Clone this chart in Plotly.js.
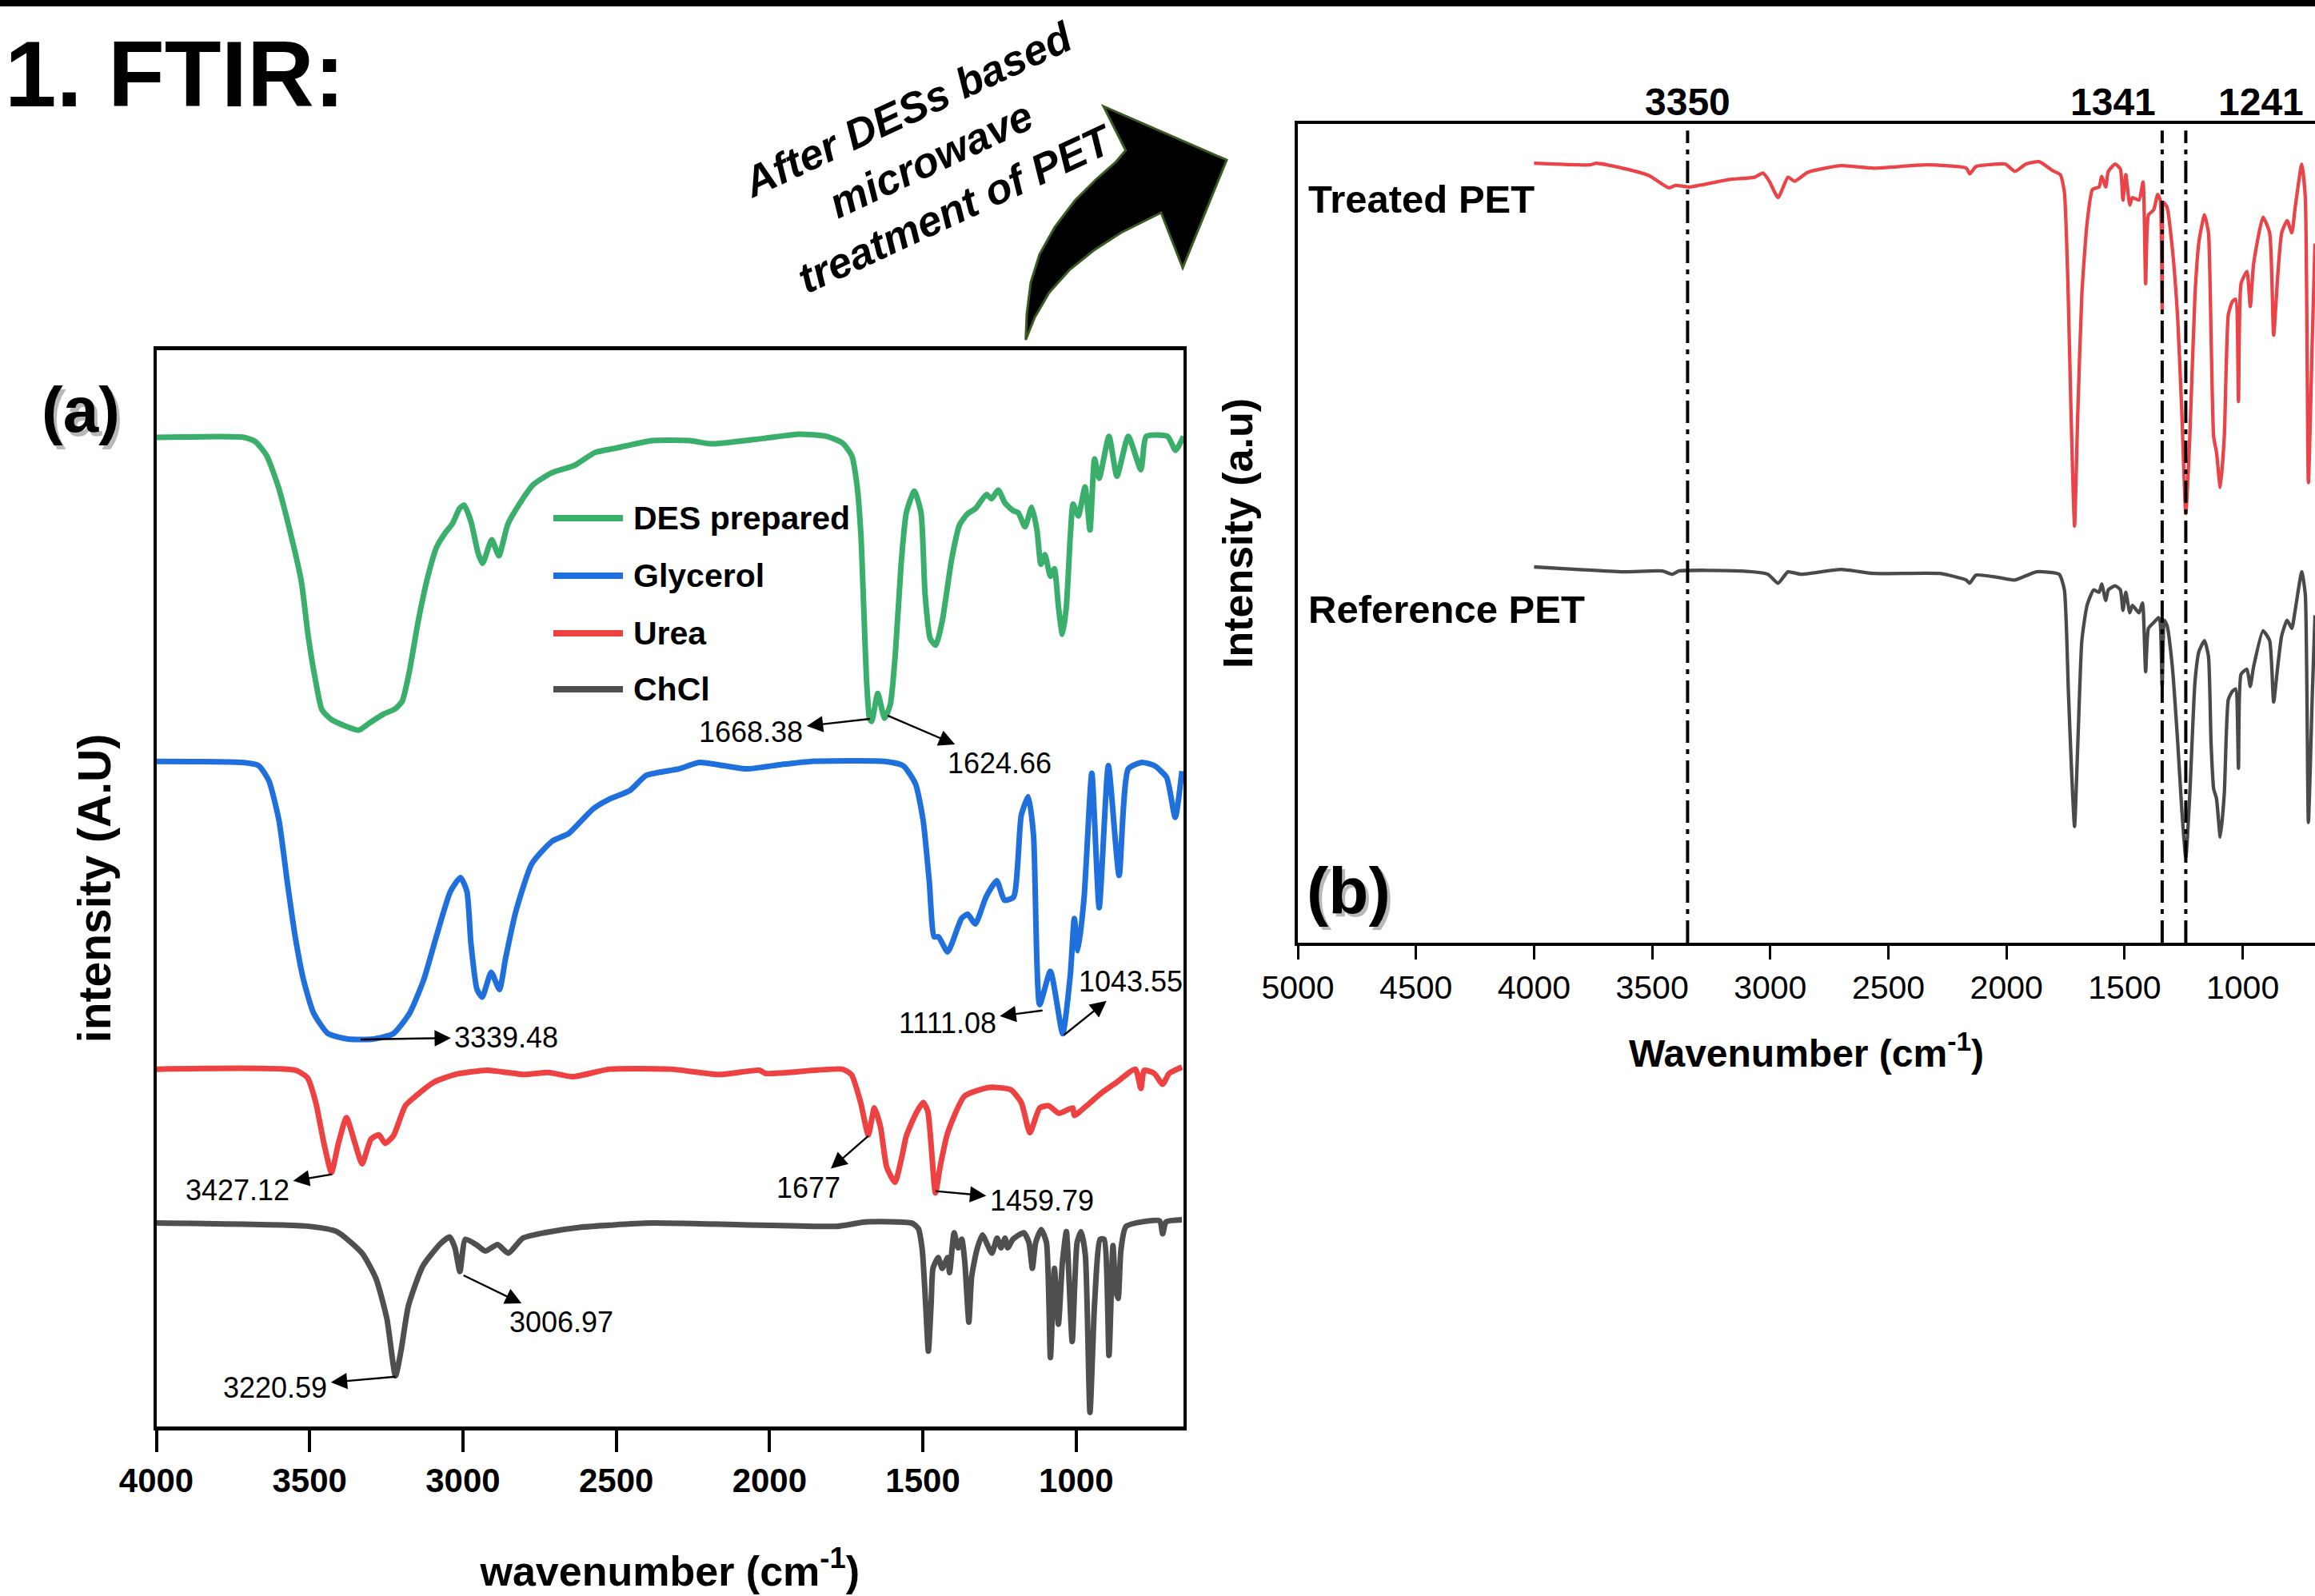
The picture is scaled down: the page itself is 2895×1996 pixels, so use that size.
<!DOCTYPE html>
<html><head><meta charset="utf-8">
<script src="https://cdn.plot.ly/plotly-3.0.1.min.js"></script>
<style>html,body{margin:0;padding:0;overflow:hidden;background:#fff}#chart{width:2895px;height:1996px}</style>
</head><body><div id="chart"></div>
<script>
// ---------------- DATA ----------------
// Panel (a): offset-stacked FTIR spectra, y in arbitrary units (0-100 of the plot height)
const desX = [4000,3714,3677,3640,3602,3565,3527,3505,3482,3460,3430,3385,3340,3303,3258,3220,3198,3175,3146,3116,3086,3056,3034,3011,2996,2974,2951,2936,2906,2883,2854,2816,2771,2711,2636,2569,2502,2382,2262,2187,2022,1902,1815,1763,1732,1715,1702,1693,1684,1674,1667,1647,1625,1606,1589,1571,1554,1528,1506,1493,1476,1458,1437,1406,1380,1354,1328,1293,1276,1254,1232,1206,1189,1167,1145,1128,1115,1102,1084,1071,1058,1045,1032,1019,1010,993,971,955,940,925,893,867,830,789,771,702,676,650];
const desY = [91.9,91.9,91.5,90.2,87.3,83.3,78.5,73.5,69.5,66.6,65.7,65.1,64.7,65.4,66.2,66.7,67.4,70.1,74.8,78.8,81.7,83.1,83.9,85.3,85.6,84.1,81.2,80.2,82.4,80.9,83.8,85.7,87.5,88.6,89.3,90.5,90.9,91.6,91.6,91.3,91.8,92.2,92.0,91.4,90.2,87.5,82.8,76.2,69.5,65.8,65.5,68.1,65.8,67.1,72.1,80.1,84.9,86.9,84.9,77.4,73.2,72.6,74.8,80.6,83.8,84.8,85.3,86.6,86.2,87.0,85.8,85.1,84.9,83.6,85.4,83.3,80.1,81.0,79.0,79.7,76.2,73.6,76.2,82.8,85.7,84.6,87.3,83.3,89.9,88.1,92.0,88.3,92.0,88.9,92.0,92.0,90.7,92.0];

const glyX = [4000,3720,3666,3633,3600,3573,3547,3520,3487,3440,3374,3294,3227,3174,3128,3087,3041,3008,2987,2974,2954,2937,2908,2881,2861,2828,2775,2708,2655,2575,2522,2455,2402,2296,2229,2149,2073,1963,1863,1624,1564,1524,1499,1479,1463,1449,1419,1374,1354,1329,1294,1259,1234,1204,1179,1156,1139,1119,1084,1044,1019,1006,994,974,949,925,895,860,830,785,745,705,677,655];
const glyY = [61.8,61.7,61.4,60.0,56.3,50.6,45.5,41.5,38.4,36.5,36.0,36.0,36.5,38.4,41.5,45.5,49.7,51.0,49.7,44.9,40.6,39.9,42.2,40.6,43.5,47.8,52.3,54.4,55.1,57.4,58.3,59.1,60.5,61.1,61.7,61.4,61.1,61.5,61.8,61.8,61.4,59.7,56.3,50.6,45.5,45.5,44.1,47.2,47.6,46.7,49.2,50.7,48.9,49.2,56.8,58.5,54.9,39.2,42.3,36.5,42.0,47.2,44.2,49.2,60.7,48.2,61.4,51.2,61.1,61.7,61.4,60.3,56.6,60.9];

const ureaX = [4000,3547,3507,3480,3454,3429,3407,3380,3353,3329,3300,3274,3254,3227,3188,3154,3094,3027,2921,2801,2721,2642,2522,2322,2163,2033,2013,1763,1733,1703,1678,1658,1638,1618,1591,1569,1554,1524,1499,1484,1459,1444,1419,1364,1284,1214,1179,1151,1119,1090,1056,1011,1006,966,917,867,807,789,778,745,718,697,655];
const ureaY = [33.2,33.1,32.4,30.1,26.4,23.6,26.2,28.7,26.4,24.4,26.7,27.1,26.3,27.0,29.8,30.7,32.0,32.7,33.1,32.7,32.9,32.5,33.2,33.2,32.7,33.1,32.8,33.2,32.7,30.1,27.1,29.6,27.8,24.1,22.7,25.0,27.0,29.0,30.1,29.3,21.7,24.1,27.3,30.7,31.5,31.3,30.1,27.3,29.6,29.8,29.1,29.6,28.9,29.8,31.0,32.0,33.2,31.4,33.1,32.8,31.8,32.8,33.4];

const chclX = [4000,3504,3411,3329,3283,3248,3220,3201,3178,3131,3073,3043,3026,3010,2992,2957,2927,2887,2852,2805,2735,2619,2386,1781,1688,1536,1515,1502,1491,1482,1473,1467,1450,1437,1419,1413,1398,1385,1373,1363,1350,1341,1324,1306,1275,1258,1245,1232,1223,1206,1171,1154,1143,1132,1114,1097,1084,1071,1058,1045,1032,1013,997,984,970,955,940,922,909,893,880,871,863,854,837,728,718,707,655];
const chclY = [18.9,18.6,18.1,16.1,13.7,10.0,4.7,7.2,11.2,14.9,17.0,17.6,16.6,14.4,17.4,16.9,16.3,16.9,16.1,17.5,18.0,18.5,18.9,18.6,19.0,18.9,18.4,16.4,11.4,7.0,11.4,14.7,15.7,14.7,15.7,14.3,18.0,16.6,17.4,15.2,9.7,13.9,16.4,17.8,16.1,17.5,16.6,17.5,16.6,17.4,18.0,17.1,14.7,17.1,18.3,17.1,6.4,14.7,9.5,15.2,18.1,7.9,17.1,18.1,15.9,1.3,11.4,17.4,17.4,6.6,16.8,12.7,11.9,16.4,18.6,19.1,17.9,19.0,19.2];

const seriesNamesA = ['DES prepared','Glycerol','Urea','ChCl'];

// Peak labels of panel (a): label text and the peak each arrow starts from
const peakLabels = ['1668.38','1624.66','3339.48','3427.12','1111.08','1043.55','1677','1459.79','3006.97','3220.59'];
const peakX = [1672,1615,3334,3427,1110,1040,1678,1459,2998,3220];
const peakY = [65.75,66.05,35.96,23.43,38.65,36.37,26.99,21.87,14.04,4.63];

// Panel (b): PET spectra
const treatX = [4000,3764,3737,3626,3514,3430,3401,3345,3177,3066,3031,3004,2967,2925,2897,2841,2701,2562,2339,2170,2156,2129,2031,2004,1964,1918,1862,1805,1772,1755,1740,1727,1712,1698,1681,1659,1636,1608,1597,1580,1569,1540,1518,1507,1495,1478,1467,1439,1422,1411,1399,1377,1360,1349,1341,1334,1320,1298,1275,1258,1241,1224,1202,1185,1162,1145,1134,1123,1111,1095,1078,1061,1044,1030,1018,1007,982,968,954,914,886,869,852,835,812,792,778,750,735,722,705,694];
const treatY = [95.2,95.0,95.2,94.6,93.7,92.2,92.5,92.3,93.2,93.5,94.0,93.0,91.0,93.5,93.0,94.1,94.9,94.6,95.0,94.6,93.9,94.8,95.1,95.1,94.2,95.1,95.4,94.3,93.8,91.7,80.5,64.9,50.9,64.9,79.2,87.9,92.0,92.3,93.6,92.3,94.2,95.1,94.5,90.7,93.8,90.1,91.0,90.7,92.9,80.5,88.9,89.5,91.4,90.7,77.3,90.4,89.8,84.8,76.1,64.9,52.4,61.8,79.2,85.7,88.9,86.7,74.2,61.8,59.9,55.6,61.8,76.7,78.3,78.6,66.1,80.5,82.0,77.7,82.9,88.6,86.7,74.2,81.4,86.7,88.2,86.7,89.8,95.1,91.0,56.2,74.2,85.4];

const refX = [4000,3820,3624,3456,3415,3387,3121,3010,2967,2925,2871,2701,2562,2282,2171,2156,2129,2031,1964,1873,1777,1755,1738,1725,1712,1698,1681,1659,1631,1608,1597,1580,1569,1540,1518,1507,1495,1478,1467,1439,1424,1411,1399,1377,1356,1349,1341,1332,1320,1298,1275,1258,1241,1224,1202,1185,1162,1145,1134,1123,1111,1095,1078,1061,1044,1030,1018,1007,982,968,954,914,886,869,852,835,812,792,778,750,735,722,705,694];
const refY = [45.9,45.6,45.3,45.4,45.0,45.4,45.4,45.0,43.9,45.3,45.0,45.6,45.1,45.1,44.3,43.9,44.9,44.6,44.3,45.3,45.0,43.1,30.7,21.3,14.2,24.4,36.9,41.2,43.1,42.8,43.8,41.8,43.1,43.6,43.1,40.6,42.8,40.3,41.2,40.3,41.5,33.1,38.4,39.1,39.7,39.1,31.3,39.4,38.7,33.7,24.4,16.3,10.4,18.2,31.9,35.6,36.9,35.0,24.4,18.8,17.6,12.9,18.2,29.7,30.7,31.0,21.3,32.8,33.4,31.3,33.7,38.1,36.9,29.4,33.7,37.5,39.4,38.4,40.6,45.3,42.5,14.7,30.7,40.0];

const seriesNamesB = ['Treated PET','Reference PET'];
const markerWn = [3350,1341,1241];
const markerLabels = ['3350','1341','1241'];

const ticksA = [4000,3500,3000,2500,2000,1500,1000];
const tickTextA = ['4000','3500','3000','2500','2000','1500','1000'];
const ticksB = [5000,4500,4000,3500,3000,2500,2000,1500,1000];
const tickTextB = ['5000','4500','4000','3500','3000','2500','2000','1500','1000'];

// ---------------- LAYOUT / STYLE ----------------
const W = 2895, H = 1996;
const px = X => X / W, py = Y => 1 - Y / H;
const SANS = 'Liberation Sans, Arial, sans-serif';
const colorsA = ['#3AAE6B', '#1F6FDD', '#EE4141', '#4F4F4F'];
const colorsB = ['#EA4348', '#4A4A4A'];

const traces = [];
[[desX,desY],[glyX,glyY],[ureaX,ureaY],[chclX,chclY]].forEach((d,i) => {
  traces.push({x:d[0], y:d[1], name:seriesNamesA[i], type:'scatter', mode:'lines', xaxis:'x', yaxis:'y',
    line:{color:colorsA[i], width:7, shape:'spline', smoothing:0.55}, showlegend:false, hoverinfo:'skip'});
});
[[treatX,treatY],[refX,refY]].forEach((d,i) => {
  traces.push({x:d[0], y:d[1], name:seriesNamesB[i], type:'scatter', mode:'lines', xaxis:'x2', yaxis:'y2',
    line:{color:colorsB[i], width:4.3, shape:'spline', smoothing:0.5}, showlegend:false, hoverinfo:'skip'});
});

// label centres (layout)
const labX = [2060,1250,2858,3735,1420,822,1873,1112,2680,3612];
const labY = [64.5,61.6,36.18,21.95,37.5,41.34,22.15,20.96,9.66,3.64];

const annotations = [];
peakLabels.forEach((t,i) => {
  annotations.push({xref:'x', yref:'y', x:peakX[i], y:peakY[i], axref:'x', ayref:'y', ax:labX[i], ay:labY[i],
    text:t, showarrow:true, arrowside:'start', startarrowhead:2, startarrowsize:1.7, arrowwidth:2.4,
    arrowcolor:'#000', standoff:0, startstandoff:2, borderpad:2,
    font:{family:SANS, size:36, color:'#000'}, xanchor:'center', yanchor:'middle'});
});

// legend of panel (a), drawn by hand
const legRows = [648,720,792,862];
const shapes = [];
seriesNamesA.forEach((n,i) => {
  shapes.push({type:'line', xref:'paper', yref:'paper', x0:px(692), x1:px(779), y0:py(legRows[i]), y1:py(legRows[i]),
    line:{color:colorsA[i], width:8}});
  annotations.push({xref:'paper', yref:'paper', x:px(790), y:py(legRows[i]), text:n, showarrow:false,
    xanchor:'left', yanchor:'middle', font:{family:SANS, size:41, color:'#000', weight:'bold'}});
});

// marker lines panel (b)
markerWn.forEach((w,i) => {
  shapes.push({type:'line', xref:'x2', yref:'y2', x0:w, x1:w, y0:0, y1:99.2,
    line:{color:'#000', width:4, dash:'28px,8px,6px,8px'}});
});
annotations.push({xref:'x2', yref:'paper', x:markerWn[0], y:py(127), text:markerLabels[0], showarrow:false,
  xanchor:'center', yanchor:'middle', font:{family:SANS, size:48, color:'#000', weight:'bold'}});
annotations.push({xref:'x2', yref:'paper', x:1361, y:py(127), text:markerLabels[1], showarrow:false,
  xanchor:'right', yanchor:'middle', font:{family:SANS, size:48, color:'#000', weight:'bold'}});
annotations.push({xref:'x2', yref:'paper', x:1110, y:py(127), text:markerLabels[2], showarrow:false,
  xanchor:'left', yanchor:'middle', font:{family:SANS, size:48, color:'#000', weight:'bold'}});

// trace names panel (b)
annotations.push({xref:'paper', yref:'paper', x:px(1634), y:py(249), text:seriesNamesB[0], showarrow:false,
  xanchor:'left', yanchor:'middle', font:{family:SANS, size:49, color:'#000', weight:'bold'}});
annotations.push({xref:'paper', yref:'paper', x:px(1634), y:py(762), text:seriesNamesB[1], showarrow:false,
  xanchor:'left', yanchor:'middle', font:{family:SANS, size:49, color:'#000', weight:'bold'}});

// panel tags with soft shadow
[['(a)',50,513,80],['(b)',1632,1113,82]].forEach(p => {
  annotations.push({xref:'paper', yref:'paper', x:px(p[1]+4), y:py(p[2]+4), text:p[0], showarrow:false,
    xanchor:'left', yanchor:'middle', font:{family:SANS, size:p[3], color:'rgba(0,0,0,0.28)', weight:'bold'}});
  annotations.push({xref:'paper', yref:'paper', x:px(p[1]), y:py(p[2]), text:p[0], showarrow:false,
    xanchor:'left', yanchor:'middle', font:{family:SANS, size:p[3], color:'#000', weight:'bold'}});
});

// rotated caption
annotations.push({xref:'paper', yref:'paper', x:px(1164), y:py(200), text:'After DESs based<br>microwave<br>treatment of PET',
  showarrow:false, textangle:-25, xanchor:'center', yanchor:'middle', align:'center',
  font:{family:SANS, size:53, color:'#000', weight:'bold', style:'italic'}});

// top black bar
shapes.push({type:'rect', xref:'paper', yref:'paper', x0:0, x1:1, y0:py(8), y1:1, fillcolor:'#000', line:{width:0}});

// curved arrow
const arrowPts = [[1282.7,425],[1284,393],[1289,353],[1300,318],[1319,284],[1344,251],[1371,224],[1395,203],[1407.7,188],
  [1380,133],[1534,200],[1479,335],[1452,266],[1432,276],[1402,291],[1368,313],[1338,337],[1312,366],[1294,397]];
let path = 'M ' + arrowPts.map(p => px(p[0]).toFixed(5) + ',' + py(p[1]).toFixed(5)).join(' L ') + ' Z';
shapes.push({type:'path', xref:'paper', yref:'paper', path:path, fillcolor:'#000', line:{color:'#3B5A22', width:3}});

const layout = {
  width: W, height: H,
  margin: {l:0, r:0, t:0, b:0, pad:0},
  paper_bgcolor:'#fff', plot_bgcolor:'rgba(0,0,0,0)',
  showlegend:false,
  title: {text:'1. FTIR:', xref:'paper', yref:'paper', x:px(6), xanchor:'left', y:py(92), yanchor:'middle',
    font:{family:SANS, size:116, color:'#000', weight:'bold'}},
  xaxis: {domain:[px(195.5), px(1480)], range:[4000,650], anchor:'y', showgrid:false, zeroline:false,
    showline:true, linewidth:5, linecolor:'#000', mirror:true, ticks:'outside', ticklen:27, tickwidth:4, tickcolor:'#000',
    tickvals:ticksA, ticktext:tickTextA, tickfont:{family:SANS, size:42, color:'#000', weight:'bold'},
    title:{text:'wavenumber (cm<sup>-1</sup>)', font:{family:SANS, size:52, color:'#000', weight:'bold'}, standoff:74}},
  yaxis: {domain:[py(1784), py(438)], range:[0,100], anchor:'x', showgrid:false, zeroline:false,
    showline:true, linewidth:4, linecolor:'#000', mirror:true, ticks:'', showticklabels:false,
    title:{text:'intensity (A.U)', font:{family:SANS, size:57, color:'#000', weight:'bold'}, standoff:36}},
  xaxis2: {domain:[px(1623), 1], range:[5000,694], anchor:'y2', showgrid:false, zeroline:false,
    showline:true, linewidth:4, linecolor:'#000', mirror:true, ticks:'outside', ticklen:17, tickwidth:3, tickcolor:'#000',
    tickvals:ticksB, ticktext:tickTextB, tickfont:{family:SANS, size:41, color:'#000'},
    title:{text:'Wavenumber (cm<sup>-1</sup>)', font:{family:SANS, size:48, color:'#000', weight:'bold'}, standoff:44}},
  yaxis2: {domain:[py(1179), py(155)], range:[0,100], anchor:'x2', showgrid:false, zeroline:false,
    showline:true, linewidth:4, linecolor:'#000', mirror:false, ticks:'', showticklabels:false,
    title:{text:'Intensity (a.u)', font:{family:SANS, size:52, color:'#000', weight:'bold'}, standoff:37}},
  shapes: shapes,
  annotations: annotations
};

Plotly.newPlot('chart', traces, layout, {staticPlot:true, displayModeBar:false});
</script></body></html>
